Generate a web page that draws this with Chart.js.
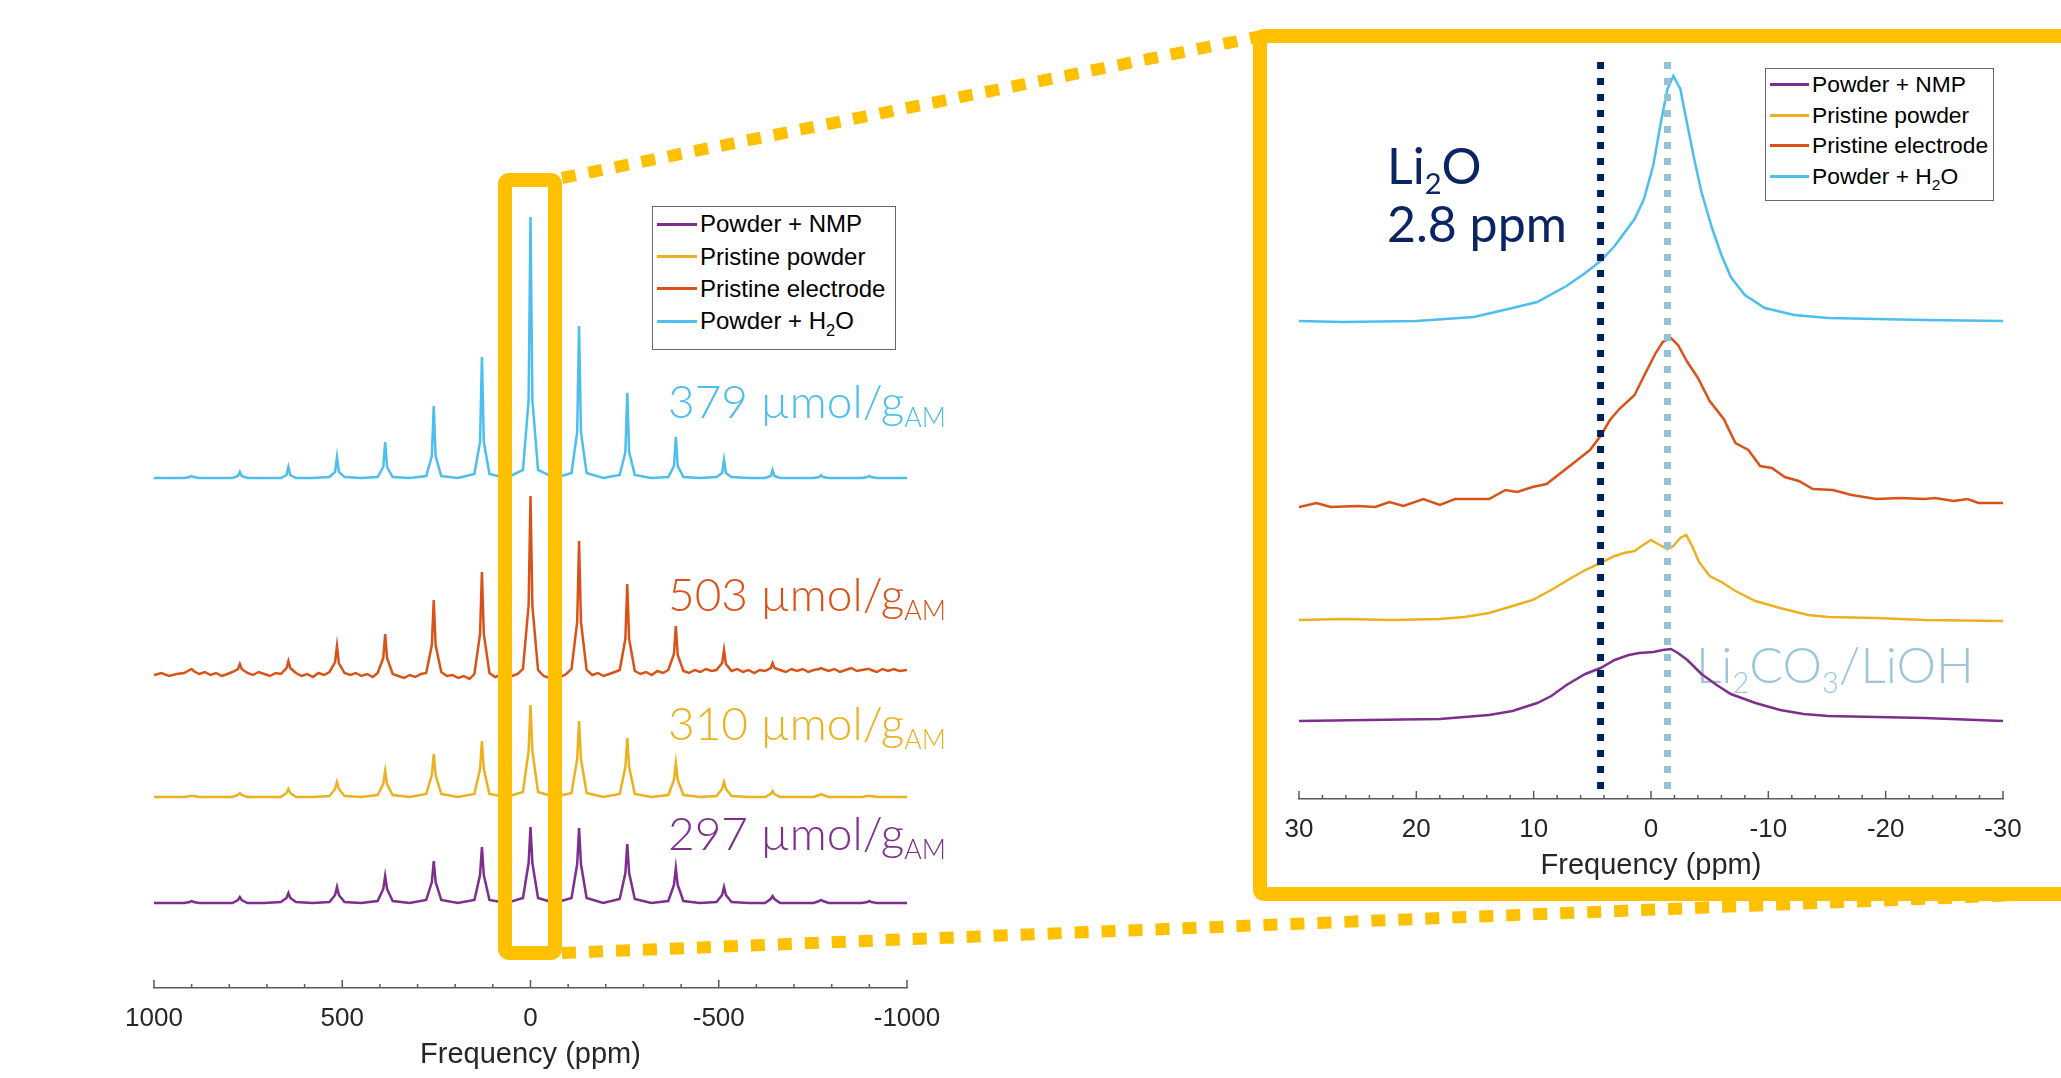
<!DOCTYPE html>
<html>
<head>
<meta charset="utf-8">
<title>7Li NMR spectra</title>
<script src="https://cdn.jsdelivr.net/npm/chart.js@4.4.0/dist/chart.umd.min.js"></script>
<style>
  html, body { margin: 0; padding: 0; background: #fff; width: 2061px; height: 1078px; overflow: hidden; }
  #leftChart { position: absolute; left: 0; top: 0; }
  #rightChart { position: absolute; left: 1270px; top: 0; }
  .legend { position: absolute; background: #fff; border: 1.5px solid #666; box-sizing: border-box;
            font-family: 'Liberation Sans', Arial, sans-serif; color: #000; }
  .legend .row { display: flex; align-items: center; white-space: nowrap; }
  .legend .swatch { display: inline-block; height: 3px; margin-left: 4px; margin-right: 3px; }
  .legend sub { font-size: 0.68em; line-height: 0; vertical-align: -0.4em; }
  #overlay { position: absolute; left: 0; top: 0; pointer-events: none; }
</style>
</head>
<body>
<canvas id="leftChart" width="960" height="1078"></canvas>
<canvas id="rightChart" width="791" height="889"></canvas>
<div id="leftLegend" class="legend"></div>
<div id="rightLegend" class="legend"></div>
<svg id="overlay" width="2061" height="1078">
  <g fill="none" stroke="#FFC000" stroke-linejoin="round">
    <rect x="505" y="180" width="50" height="773" rx="4" stroke-width="14"/>
    <rect x="1260" y="36" width="900" height="858" rx="4" stroke-width="14"/>
    <line x1="562" y1="178" x2="1262" y2="36" stroke-width="12" stroke-dasharray="14 13"/>
    <line x1="562" y1="953" x2="2070" y2="893" stroke-width="12" stroke-dasharray="14 13"/>
  </g>
</svg>
<script>
// ---------- series ----------
const seriesNames = ['Powder + NMP', 'Pristine powder', 'Pristine electrode', 'Powder + H<sub>2</sub>O'];
const amounts = [297, 310, 503, 379];   // µmol/g_AM, same order as seriesNames

// left panel: full spectra with spinning sidebands (ppm)
const leftPpm = [1000,
  920, 905, 900, 895, 880, 836,
  792, 777, 772, 767, 752, 707,
  663, 648, 643, 638, 623, 579,
  534, 519, 514, 509, 494, 450,
  406, 391, 386, 381, 366, 321,
  277, 262, 257, 252, 237, 193,
  149, 134, 129, 124, 109, 64,
  20, 5, 0, -5, -20, -64,
  -109, -124, -129, -134, -149, -193,
  -237, -252, -257, -262, -277, -321,
  -366, -381, -386, -391, -406, -450,
  -494, -509, -514, -519, -534, -579,
  -623, -638, -643, -648, -663, -707,
  -752, -767, -772, -777, -792, -836,
  -880, -895, -900, -905, -920, -1000];

const leftPpmDense = [1000, 980, 960, 940,
  920, 905, 900, 895, 880, 865, 850, 835, 820, 805,
  792, 777, 772, 767, 752, 737, 722, 707, 692, 677,
  663, 648, 643, 638, 623, 608, 593, 578, 563, 548,
  534, 519, 514, 509, 494, 479, 464, 449, 434, 419,
  406, 391, 386, 381, 366, 351, 336, 321, 306, 291,
  277, 262, 257, 252, 237, 222, 207, 192, 177, 162,
  149, 134, 129, 124, 109, 94, 79, 64, 49, 34,
  20, 5, 0, -5, -20, -35, -50, -65, -80, -95,
  -109, -124, -129, -134, -149, -164, -179, -194, -209, -224,
  -237, -252, -257, -262, -277, -292, -307, -322, -337, -352,
  -366, -381, -386, -391, -406, -421, -436, -451, -466, -481,
  -494, -509, -514, -519, -534, -549, -564, -579, -594, -609,
  -623, -638, -643, -648, -663, -678, -693, -708, -723, -738,
  -752, -767, -772, -777, -792, -807, -822, -837, -852, -867,
  -880, -895, -900, -905, -920, -935, -950, -965, -980, -1000];

const leftNmp = [0,
  0, 1, 2, 1, 0, 0,
  0, 3, 6, 3, 0, 0,
  1, 5, 10, 5, 1, 0,
  1, 8, 16, 8, 1, 0,
  2, 14, 27, 14, 2, 0,
  3, 21, 42, 21, 3, 0,
  3, 28, 56, 28, 3, 0,
  5, 40, 76, 40, 5, 0,
  5, 39, 75, 39, 5, 0,
  4, 30, 59, 30, 4, 0,
  2, 18, 35, 18, 2, 0,
  1, 8, 16, 8, 1, 0,
  0, 4, 7, 4, 0, 0,
  0, 2, 3, 2, 0, 0,
  0, 1, 2, 1, 0, 0];

const leftPowder = [0,
  0, 1, 1, 1, 0, 0,
  0, 2, 4, 2, 0, 0,
  0, 4, 8, 4, 0, 0,
  1, 8, 15, 8, 1, 0,
  2, 13, 26, 13, 2, 0,
  3, 22, 43, 22, 3, 0,
  3, 28, 56, 28, 3, 0,
  5, 46, 92, 46, 5, 0,
  4, 38, 76, 38, 4, 0,
  3, 30, 59, 30, 3, 0,
  2, 17, 34, 17, 2, 0,
  1, 8, 15, 8, 1, 0,
  0, 3, 6, 3, 0, 0,
  0, 2, 3, 2, 0, 0,
  0, 1, 1, 1, 0, 0];

const leftElectrode = [-3, -1, -4, -2,
  -1, 2, 3, 1, -2, 0, -3, -1, -4, -2,
  0, 3, 8, 3, -1, -3, 0, -2, -4, -1,
  -2, 4, 11, 4, -1, -4, -2, -5, -1, -3,
  0, 10, 26, 9, -1, -3, -1, -4, -2, -5,
  -1, 14, 38, 14, -2, -4, -6, -3, -5, -2,
  -1, 27, 72, 27, 0, -4, -3, -6, -4, -7,
  -2, 38, 100, 38, -1, -5, -3, -6, -4, -2,
  3, 67, 176, 66, 2, -4, -6, -3, -5, -2,
  3, 50, 131, 50, 2, -3, -1, -4, -2, 0,
  2, 33, 88, 33, 1, -2, 0, -3, 1, -1,
  2, 18, 46, 17, 1, -1, 2, 0, 3, 1,
  2, 9, 22, 8, 1, 3, 0, 2, -1, 2,
  1, 4, 9, 4, 2, 0, 3, 1, 3, 0,
  2, 3, 4, 3, 1, 3, 0, 2, 4, 1,
  2, 3, 3, 2, 0, 3, 1, 3, 1, 2];

const leftWater = [0,
  0, 1, 2, 1, 0, 0,
  0, 2, 6, 2, 0, 0,
  0, 3, 11, 3, 0, 0,
  1, 6, 21, 6, 1, 0,
  1, 11, 36, 11, 1, 0,
  2, 22, 72, 22, 2, 0,
  4, 36, 121, 36, 4, 0,
  8, 78, 261, 78, 8, 0,
  5, 46, 152, 46, 5, 0,
  3, 26, 85, 26, 3, 0,
  1, 12, 41, 12, 1, 0,
  1, 5, 18, 5, 1, 0,
  0, 2, 8, 2, 0, 0,
  0, 1, 3, 1, 0, 0,
  0, 1, 2, 1, 0, 0];

// right panel: zoom on the centre band (ppm)
const rightNmpPpm = [30, 24.2, 18.0, 13.8, 11.8, 9.7, 8.5, 7.2, 5.6, 4.3, 3.1, 1.9, 1.0, -0.2, -1.0, -1.7, -2.3, -3.1, -4.3, -5.6, -6.8, -8.9, -11.0, -13.0, -15.1, -19.2, -23.3, -30];
const rightNmp = [-1, 0, 1, 5, 9, 17, 24, 35, 46, 52, 60, 65, 67, 68, 70, 71, 67, 60, 46, 35, 26, 17, 10, 6, 4, 3, 2, -1];

const rightPowderPpm = [30, 26.2, 22.1, 18.0, 15.9, 13.8, 11.8, 10.1, 8.5, 6.8, 5.6, 4.3, 3.1, 2.3, 1.4, 0.8, 0.0, -0.6, -1.4, -1.9, -2.5, -3.0, -3.5, -4.1, -5.0, -6.0, -7.2, -8.9, -11.0, -13.4, -15.1, -19.2, -23.3, -30];
const rightPowder = [0, 1, 0, 1, 3, 7, 14, 20, 30, 42, 50, 57, 64, 67, 69, 74, 80, 76, 71, 74, 82, 85, 74, 58, 44, 38, 29, 19, 12, 5, 3, 2, 0, -1];

const rightElectrodePpm = [30, 28.5, 27.3, 25.0, 23.5, 22.3, 21.1, 19.4, 18.0, 16.7, 13.8, 12.4, 11.4, 10.1, 8.9, 7.8, 6.6, 5.2, 4.3, 3.5, 2.7, 1.4, 0.6, -0.4, -1.0, -1.7, -2.3, -3.1, -4.0, -5.0, -6.2, -7.2, -8.3, -9.3, -10.3, -11.4, -12.6, -13.8, -15.5, -17.1, -19.2, -21.3, -23.3, -24.2, -25.8, -27.0, -27.9, -30];
const rightElectrode = [-1, 3, -1, 0, -1, 4, 0, 7, 1, 7, 7, 16, 14, 19, 22, 32, 43, 56, 70, 86, 97, 111, 130, 153, 164, 168, 161, 144, 128, 105, 87, 63, 56, 40, 38, 29, 25, 17, 16, 11, 7, 8, 7, 8, 5, 7, 3, 3];

const rightWaterPpm = [30, 26.2, 20.0, 15.1, 11.8, 9.7, 7.2, 5.6, 4.3, 3.1, 1.4, 0.6, -0.2, -0.8, -1.4, -1.9, -2.5, -3.1, -3.7, -4.3, -5.2, -6.0, -6.8, -8.0, -9.7, -12.2, -15.1, -19.2, -23.3, -30];
const rightWater = [0, -1, 0, 4, 13, 19, 35, 48, 60, 75, 102, 122, 156, 196, 232, 245, 232, 196, 161, 129, 93, 66, 44, 26, 13, 6, 3, 2, 1, 0];

// reference shifts (ppm)
const li2oShift = 4.3;
const carbonateShift = -1.4;

// axes
const leftTickValues = [-1000, -900, -800, -700, -600, -500, -400, -300, -200, -100, 0, 100, 200, 300, 400, 500, 600, 700, 800, 900, 1000];
const leftTickLabels = [1000, 500, 0, -500, -1000];
const rightTickValues = [-30, -28, -26, -24, -22, -20, -18, -16, -14, -12, -10, -8, -6, -4, -2, 0, 2, 4, 6, 8, 10, 12, 14, 16, 18, 20, 22, 24, 26, 28, 30];
const rightTickLabels = [30, 20, 10, 0, -10, -20, -30];

// ---------- styling ----------
const colors = ['#7E2F8E', '#EDB120', '#D95319', '#4DBEEE'];
const leftOffsets = [85, 191, 316, 510];   // vertical stacking, same order as seriesNames
const rightOffsets = [79, 179, 293, 478];
const axisFont = 'Liberation Sans';
const noteFont = 'Lato';

function pts(xs, ys, off) {
  return xs.map((x, i) => ({ x: x, y: off + ys[i] }));
}

function line(i, data) {
  return {
    label: seriesNames[i].replace(/<\/?sub>/g, ''),
    data: data,
    borderColor: colors[i],
    borderWidth: 2.5,
    pointRadius: 0,
    fill: false,
    tension: 0
  };
}

// draw text with subscripts: parts = [normal, sub, normal, sub, ...]
function richText(ctx, x, y, parts, size, color, weight) {
  ctx.save();
  ctx.fillStyle = color;
  ctx.textBaseline = 'alphabetic';
  let cx = x;
  parts.forEach((p, i) => {
    const sub = i % 2 === 1;
    ctx.font = (weight || 300) + ' ' + (sub ? size * 0.58 : size) + 'px ' + noteFont;
    ctx.fillText(p, cx, sub ? y + size * 0.2 : y);
    cx += ctx.measureText(p).width;
  });
  ctx.restore();
}

// tick marks pointing into the plot, like the original
const innerTicks = {
  id: 'innerTicks',
  afterDraw(chart, args, opts) {
    const sc = chart.scales.x;
    const ctx = chart.ctx;
    const y0 = chart.chartArea.bottom;
    ctx.save();
    ctx.strokeStyle = '#5a5a5a';
    ctx.lineWidth = 1.5;
    sc.ticks.forEach(t => {
      const px = sc.getPixelForValue(t.value);
      const len = opts.majors.includes(t.value) ? 8 : 4;
      ctx.beginPath();
      ctx.moveTo(px, y0);
      ctx.lineTo(px, y0 - len);
      ctx.stroke();
    });
    ctx.restore();
  }
};

const amountNotes = {
  id: 'amountNotes',
  afterDatasetsDraw(chart) {
    const baselines = [850, 740, 611, 418];
    amounts.forEach((a, i) => {
      richText(chart.ctx, 668, baselines[i], [a + ' µmol/g', 'AM'], 46, colors[i]);
    });
  }
};

const refLines = {
  id: 'refLines',
  beforeDatasetsDraw(chart) {
    richText(chart.ctx, 426, 683, ['Li', '2', 'CO', '3', '/LiOH'], 50, 'rgba(146,192,216,0.9)');
  },
  afterDatasetsDraw(chart) {
    const { ctx, scales: { x, y } } = chart;
    const top = y.getPixelForValue(737);
    const bot = y.getPixelForValue(10);
    [[li2oShift, '#002060'], [carbonateShift, '#93C1D8']].forEach(([v, c]) => {
      const px = x.getPixelForValue(v);
      ctx.save();
      ctx.strokeStyle = c;
      ctx.lineWidth = 7;
      ctx.setLineDash([7, 9]);
      ctx.beginPath();
      ctx.moveTo(px, top);
      ctx.lineTo(px, bot);
      ctx.stroke();
      ctx.restore();
    });
    richText(ctx, 117, 184, ['Li', '2', 'O'], 50, '#0b2463', 400);
    richText(ctx, 117, 242, ['2.8 ppm'], 50, '#0b2463', 400);
  }
};

function xAxis(min, max, tickValues, tickLabels) {
  return {
    type: 'linear',
    reverse: true,
    min: min,
    max: max,
    afterBuildTicks: s => { s.ticks = tickValues.map(v => ({ value: v })); },
    ticks: {
      autoSkip: false,
      maxRotation: 0,
      padding: 7,
      color: '#262626',
      font: { family: axisFont, size: 26 },
      callback: v => tickLabels.includes(v) ? String(v) : ''
    },
    grid: { display: false, drawTicks: true, tickLength: 8 },
    border: { display: true, color: '#5a5a5a', width: 1.5 },
    title: {
      display: true,
      text: 'Frequency (ppm)',
      color: '#262626',
      font: { family: axisFont, size: 29 },
      padding: { top: -3.5, bottom: 2 }
    }
  };
}

// ---------- left chart ----------
new Chart(document.getElementById('leftChart'), {
  type: 'line',
  data: {
    datasets: [
      line(0, pts(leftPpm, leftNmp, leftOffsets[0])),
      line(1, pts(leftPpm, leftPowder, leftOffsets[1])),
      line(2, pts(leftPpmDense, leftElectrode, leftOffsets[2])),
      line(3, pts(leftPpm, leftWater, leftOffsets[3]))
    ]
  },
  options: {
    responsive: false,
    animation: false,
    layout: { padding: { left: 154, right: 53, top: 100, bottom: 3.5 } },
    plugins: {
      legend: { display: false },
      tooltip: { enabled: false },
      innerTicks: { majors: leftTickLabels }
    },
    scales: {
      x: xAxis(-1000, 1000, leftTickValues, leftTickLabels),
      y: { display: false, min: 0, max: 888 }
    }
  },
  plugins: [innerTicks, amountNotes]
});

// ---------- right chart ----------
new Chart(document.getElementById('rightChart'), {
  type: 'line',
  data: {
    datasets: [
      line(0, pts(rightNmpPpm, rightNmp, rightOffsets[0])),
      line(1, pts(rightPowderPpm, rightPowder, rightOffsets[1])),
      line(2, pts(rightElectrodePpm, rightElectrode, rightOffsets[2])),
      line(3, pts(rightWaterPpm, rightWater, rightOffsets[3]))
    ]
  },
  options: {
    responsive: false,
    animation: false,
    layout: { padding: { left: 29, right: 58, top: 60, bottom: 3.5 } },
    plugins: {
      legend: { display: false },
      tooltip: { enabled: false },
      innerTicks: { majors: rightTickLabels }
    },
    scales: {
      x: xAxis(-30, 30, rightTickValues, rightTickLabels),
      y: { display: false, min: 0, max: 739 }
    }
  },
  plugins: [innerTicks, refLines]
});

// ---------- legends ----------
function buildLegend(id, box) {
  const el = document.getElementById(id);
  Object.assign(el.style, {
    left: box.left + 'px', top: box.top + 'px', width: box.width + 'px', height: box.height + 'px',
    paddingTop: box.padTop + 'px', fontSize: box.font + 'px'
  });
  seriesNames.forEach((name, i) => {
    const row = document.createElement('div');
    row.className = 'row';
    row.style.height = box.rowH + 'px';
    const sw = document.createElement('span');
    sw.className = 'swatch';
    sw.style.width = box.swatch + 'px';
    sw.style.background = colors[i];
    const tx = document.createElement('span');
    tx.innerHTML = name;
    row.appendChild(sw);
    row.appendChild(tx);
    el.appendChild(row);
  });
}
buildLegend('leftLegend', { left: 652, top: 206, width: 244, height: 144, padTop: 1, font: 24, rowH: 32.4, swatch: 40 });
buildLegend('rightLegend', { left: 1765, top: 68, width: 229, height: 133, padTop: 0, font: 22.8, rowH: 30.7, swatch: 39 });
</script>
</body>
</html>
